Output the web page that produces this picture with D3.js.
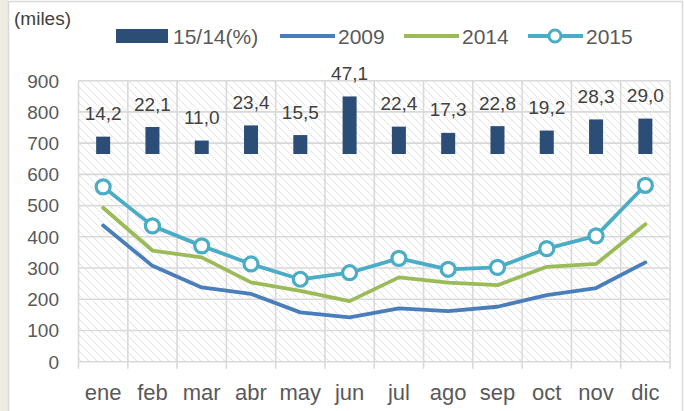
<!DOCTYPE html>
<html><head><meta charset="utf-8">
<script src="https://cdn.jsdelivr.net/npm/d3@7"></script>
<style>
html,body{margin:0;padding:0;background:#fff;}
svg{display:block;font-family:"Liberation Sans",Arial,sans-serif;}
</style></head>
<body>
<svg id="c" width="684" height="411"></svg>
<script>
const months = ["ene","feb","mar","abr","may","jun","jul","ago","sep","oct","nov","dic"];
const pct = [14.2,22.1,11.0,23.4,15.5,47.1,22.4,17.3,22.8,19.2,28.3,29.0];
const pctLabels = ["14,2","22,1","11,0","23,4","15,5","47,1","22,4","17,3","22,8","19,2","28,3","29,0"];
const s2009 = [436,307,238,217,158,142,171,162,176,213,236,318];
const s2014 = [493,356,334,254,227,194,270,253,245,304,313,440];
const s2015 = [560,435,371,313,264,285,331,296,302,362,403,565];
const yTicks = [0,100,200,300,400,500,600,700,800,900];

const svg = d3.select("#c");
// frame
svg.append("rect").attr("x",0).attr("y",0).attr("width",684).attr("height",411).attr("fill","#fff");
svg.append("rect").attr("x",0).attr("y",0).attr("width",8).attr("height",411).attr("fill","#EEECE1");
svg.append("rect").attr("x",8.5).attr("y",1.5).attr("width",674).attr("height",420)
  .attr("fill","none").attr("stroke","#d9d9d9").attr("stroke-width",1.5);

const L=78.5, R=670, T=80.7, B=361.7;
const x = d3.scaleBand().domain(months).range([L,R]);
const y = d3.scaleLinear().domain([0,900]).range([B,T]);
const y2 = d3.scaleLinear().domain([-170,60]).range([B,T]);

// hatch pattern
const defs = svg.append("defs");
const pat = defs.append("pattern").attr("id","hatch").attr("patternUnits","userSpaceOnUse")
  .attr("width",8).attr("height",8);
pat.append("rect").attr("width",8).attr("height",8).attr("fill","#fff");
pat.append("path").attr("d","M-2,-2 L10,10 M-2,6 L2,10 M6,-2 L10,2")
  .attr("stroke","#dedede").attr("stroke-width",1.1).attr("stroke-dasharray","1.5,1");
svg.append("rect").attr("x",L).attr("y",T).attr("width",R-L).attr("height",B-T).attr("fill","url(#hatch)");

// horizontal gridlines
svg.append("g").selectAll("line").data(yTicks).join("line")
  .attr("x1",L).attr("x2",R).attr("y1",d=>y(d)).attr("y2",d=>y(d))
  .attr("stroke","#d9d9d9").attr("stroke-width",1.6);
// vertical gridlines / ticks
const bounds = months.map(m=>x(m)).concat([R]);
svg.append("g").selectAll("line").data(bounds).join("line")
  .attr("x1",d=>d).attr("x2",d=>d).attr("y1",T).attr("y2",B+7)
  .attr("stroke","#d9d9d9").attr("stroke-width",1.6);

// y axis labels
svg.append("g").selectAll("text").data(yTicks).join("text")
  .attr("x",59).attr("y",d=>y(d)).attr("dy","0.36em").attr("text-anchor","end")
  .attr("font-size",19).attr("fill","#595959").text(d=>d);
// x labels
svg.append("g").selectAll("text").data(months).join("text")
  .attr("x",m=>x(m)+x.bandwidth()/2).attr("y",400).attr("text-anchor","middle")
  .attr("font-size",22).attr("fill","#595959").text(m=>m);

// bars
const bw = 14;
svg.append("g").selectAll("rect").data(pct).join("rect")
  .attr("x",(d,i)=>x(months[i])+x.bandwidth()/2-bw/2).attr("width",bw)
  .attr("y",d=>y2(d)).attr("height",d=>y2(0)-y2(d)).attr("fill","#2C4D76");
svg.append("g").selectAll("text").data(pct).join("text")
  .attr("x",(d,i)=>x(months[i])+x.bandwidth()/2).attr("y",d=>y2(d)-16.5)
  .attr("text-anchor","middle").attr("font-size",19).attr("fill","#404040")
  .text((d,i)=>pctLabels[i]);

// lines
const line = d3.line().x((d,i)=>x(months[i])+x.bandwidth()/2).y(d=>y(d));
svg.append("path").datum(s2009).attr("d",line).attr("fill","none").attr("stroke","#4A7EBB").attr("stroke-width",3.8).attr("stroke-linejoin","round").attr("stroke-linecap","round");
svg.append("path").datum(s2014).attr("d",line).attr("fill","none").attr("stroke","#9BBB59").attr("stroke-width",3.8).attr("stroke-linejoin","round").attr("stroke-linecap","round");
svg.append("path").datum(s2015).attr("d",line).attr("fill","none").attr("stroke","#4BACC6").attr("stroke-width",3.8).attr("stroke-linejoin","round");
svg.append("g").selectAll("circle").data(s2015).join("circle")
  .attr("cx",(d,i)=>x(months[i])+x.bandwidth()/2).attr("cy",d=>y(d)).attr("r",7)
  .attr("fill","#fff").attr("stroke","#4BACC6").attr("stroke-width",3.2);

// title/unit
svg.append("text").attr("x",14).attr("y",25).attr("font-size",19).attr("fill","#404040").text("(miles)");

// legend
const ly = 36;
const lg = svg.append("g").attr("font-size",21).attr("fill","#595959");
lg.append("rect").attr("x",116).attr("y",29).attr("width",52).attr("height",14).attr("fill","#2C4D76");
lg.append("text").attr("x",173).attr("y",ly).attr("dy","0.36em").text("15/14(%)");
lg.append("line").attr("x1",280).attr("x2",335).attr("y1",ly).attr("y2",ly).attr("stroke","#4A7EBB").attr("stroke-width",3.8);
lg.append("text").attr("x",338).attr("y",ly).attr("dy","0.36em").text("2009");
lg.append("line").attr("x1",404).attr("x2",459).attr("y1",ly).attr("y2",ly).attr("stroke","#9BBB59").attr("stroke-width",3.8);
lg.append("text").attr("x",462).attr("y",ly).attr("dy","0.36em").text("2014");
lg.append("line").attr("x1",528).attr("x2",583).attr("y1",ly).attr("y2",ly).attr("stroke","#4BACC6").attr("stroke-width",3.8);
lg.append("circle").attr("cx",555).attr("cy",ly).attr("r",6).attr("fill","#fff").attr("stroke","#4BACC6").attr("stroke-width",3);
lg.append("text").attr("x",586).attr("y",ly).attr("dy","0.36em").text("2015");
</script>
</body></html>
